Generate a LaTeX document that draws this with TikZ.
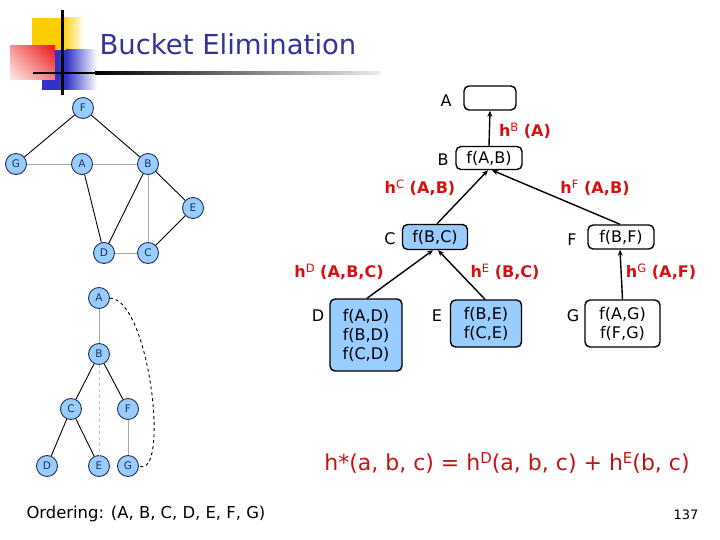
\documentclass[tikz,border=0pt]{standalone}
\usepackage{fontspec}
\setmainfont{DejaVu Sans}
\usetikzlibrary{arrows.meta,shapes.geometric,shadings}
\definecolor{titleblue}{RGB}{51,51,153}
\definecolor{lblred}{RGB}{214,16,16}
\definecolor{frmred}{RGB}{196,18,18}
\definecolor{nodeblue}{RGB}{153,204,255}
\definecolor{navy}{RGB}{30,50,90}
\definecolor{logoyel}{RGB}{255,204,0}
\definecolor{logored}{RGB}{238,20,20}
\definecolor{logoblue}{RGB}{50,50,200}
\tikzset{
  gnode/.style={circle,draw=navy,fill=nodeblue,line width=0.9pt,minimum size=21pt,inner sep=0pt,font=\fontsize{10.5}{10.5}\selectfont,text=navy},
  bedge/.style={black,line width=0.9pt},
  gedge/.style={gray!70,line width=0.9pt},
  bucket/.style={draw=black,line width=1.4pt,rounded corners=5pt,inner sep=0pt,align=center,font=\fontsize{16}{19}\selectfont},
  wbox/.style={bucket,fill=white},
  bbox/.style={bucket,fill=nodeblue},
  blabel/.style={font=\fontsize{16}{16}\selectfont},
  hlabel/.style={font=\fontsize{16}{16}\selectfont\bfseries,text=lblred},
  conn/.style={line width=1.4pt,-{Stealth[length=6pt,width=5pt]}}
}
\newcommand{\hsup}[1]{\raisebox{4.5pt}{\fontsize{11.5}{11.5}\selectfont\mdseries #1}}
\newcommand{\fsup}[1]{\raisebox{6.5pt}{\fontsize{15}{15}\selectfont #1}}
\begin{document}
\begin{tikzpicture}[x=1pt,y=-1pt]
\useasboundingbox (0,0) rectangle (720,540);
% logo
\shade[left color=logoyel,right color=white] (62,18) rectangle (84,60);
\fill[logoyel] (32,18) rectangle (64,60);
\shade[upper right=logored,lower left=logored!8,upper left=logored!45,lower right=logored!55] (10,46) rectangle (55,80);
\shade[left color=logoblue,right color=white] (66,50) rectangle (97,90);
\fill[logoblue] (55,50) rectangle (67,90);
\fill[logoblue] (42,80) rectangle (56,90);
\fill[black] (61,10) rectangle (63.5,95);
\fill[black] (33,72) rectangle (95,74.5);
\shade[left color=black,right color=gray!15] (95,72) rectangle (380,74.5);
\node[anchor=base west,text=titleblue,font=\fontsize{27.5}{30}\selectfont] (title) at (96,55) {Bucket Elimination};

% primal graph
\node[gnode] (gF) at (83,108) {F};
\node[gnode] (gG) at (16,164) {G};
\node[gnode] (gA) at (82,164) {A};
\node[gnode] (gB) at (148,164) {B};
\node[gnode] (gE) at (193,208) {E};
\node[gnode] (gD) at (104,253) {D};
\node[gnode] (gC) at (148,253) {C};
\draw[bedge] (gF) -- (gG);
\draw[bedge] (gF) -- (gB);
\draw[gedge] (gG) -- (gA);
\draw[gedge] (gA) -- (gB);
\draw[bedge] (gA) -- (gD);
\draw[bedge] (gB) -- (gD);
\draw[gedge] (gB) -- (gC);
\draw[bedge] (gB) -- (gE);
\draw[bedge] (gE) -- (gC);
\draw[gedge] (gD) -- (gC);

% pseudo tree
\node[gnode] (tA) at (99,298) {A};
\node[gnode] (tB) at (99,354) {B};
\node[gnode] (tC) at (71,409) {C};
\node[gnode] (tF) at (128,409) {F};
\node[gnode] (tD) at (47,466) {D};
\node[gnode] (tE) at (99,466) {E};
\node[gnode] (tG) at (128,466) {G};
\draw[gedge] (tA) -- (tB);
\draw[bedge] (tB) -- (tC);
\draw[bedge] (tB) -- (tF);
\draw[bedge] (tC) -- (tD);
\draw[bedge] (tC) -- (tE);
\draw[gray!50,line width=0.9pt,dashed] (tB) -- (tE);
\draw[gedge] (tF) -- (tG);
\draw[black,line width=0.9pt,dashed] (tA.east) .. controls (150,300) and (170,480) .. (tG.east);

% bucket tree
\node[wbox,minimum width=52pt,minimum height=24pt] (bA) at (490,98) {};
\node[wbox,minimum width=66pt,minimum height=23pt] (bB) at (489,158) {f(A,B)};
\node[bbox,minimum width=65pt,minimum height=25pt] (bC) at (435,237) {f(B,C)};
\node[wbox,minimum width=66pt,minimum height=24pt] (bF) at (621,237) {f(B,F)};
\node[bbox,minimum width=72pt,minimum height=72pt] (bD) at (366,335) {f(A,D)\\f(B,D)\\f(C,D)};
\node[bbox,minimum width=71pt,minimum height=47pt] (bE) at (486,323.5) {f(B,E)\\f(C,E)};
\node[wbox,minimum width=75pt,minimum height=47pt] (bG) at (622.5,323.5) {f(A,G)\\f(F,G)};

\node[blabel] (lA) at (446,101) {A};
\node[blabel] (lB) at (443,160) {B};
\node[blabel] (lC) at (390,239) {C};
\node[blabel] (lF) at (572,240) {F};
\node[blabel] (lD) at (318,316) {D};
\node[blabel] (lE) at (437,316) {E};
\node[blabel] (lG) at (573,316) {G};

\draw[conn] (bB.north) -- (bA.south);
\draw[conn] ([xshift=2pt]bC.north) -- ([xshift=-1pt]bB.south);
\draw[conn] ([xshift=-1pt]bF.north) -- ([xshift=3pt]bB.south);
\draw[conn] ([xshift=1pt]bD.north) -- ([xshift=-2pt]bC.south);
\draw[conn] ([xshift=-1pt]bE.north) -- ([xshift=3pt]bC.south);
\draw[conn] (bG.north) -- ([xshift=-1pt]bF.south);

\node[hlabel] (hB) at (525,131) {h\hsup{B} (A)};
\node[hlabel] (hC) at (420,188) {h\hsup{C} (A,B)};
\node[hlabel] (hF) at (595,188) {h\hsup{F} (A,B)};
\node[hlabel] (hD) at (339,272) {h\hsup{D} (A,B,C)};
\node[hlabel] (hE) at (505,272) {h\hsup{E} (B,C)};
\node[hlabel] (hG) at (661,272) {h\hsup{G} (A,F)};

\node[text=frmred,font=\fontsize{22}{22}\selectfont] (formula) at (507,463) {h*(a, b, c) = h\fsup{D}(a, b, c) + h\fsup{E}(b, c)};
\node[anchor=west,font=\fontsize{16.4}{18}\selectfont] (order) at (23,514) {Ordering: (A, B, C, D, E, F, G)};
\node[font=\fontsize{13}{13}\selectfont] (page) at (686,515) {137};
\end{tikzpicture}
\end{document}
